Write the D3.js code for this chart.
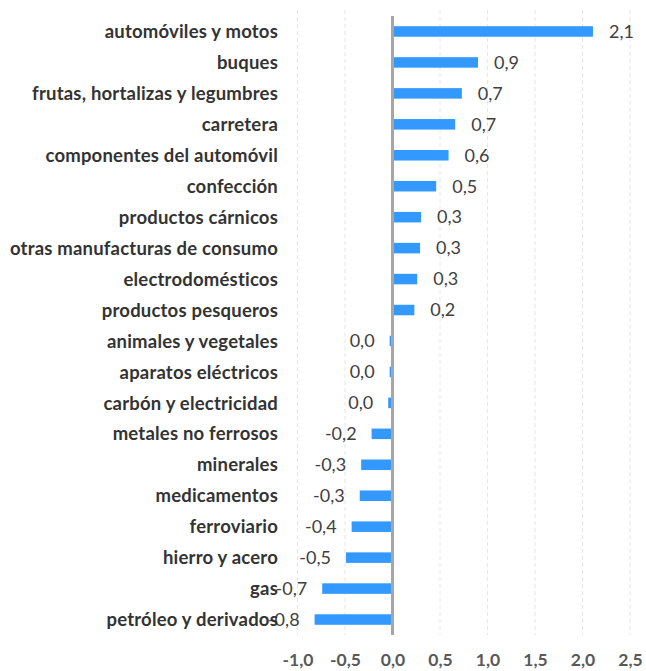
<!DOCTYPE html>
<html>
<head>
<meta charset="utf-8">
<script src="https://cdn.jsdelivr.net/npm/d3@7"></script>
<style>
  body { margin: 0; background: #fff; }
  svg { display: block; }
</style>
</head>
<body>
<div id="chart"></div>
<script>
// chart data, top to bottom
const categories = [
  "automóviles y motos", "buques", "frutas, hortalizas y legumbres", "carretera",
  "componentes del automóvil", "confección", "productos cárnicos",
  "otras manufacturas de consumo", "electrodomésticos", "productos pesqueros",
  "animales y vegetales", "aparatos eléctricos", "carbón y electricidad",
  "metales no ferrosos", "minerales", "medicamentos", "ferroviario",
  "hierro y acero", "gas", "petróleo y derivados"
];
const values = [
  2.11, 0.90, 0.73, 0.66, 0.59, 0.46, 0.30, 0.29, 0.26, 0.23,
  -0.03, -0.03, -0.045, -0.22, -0.33, -0.345, -0.43, -0.49, -0.74, -0.82
];
const xTicks = [-1, -0.5, 0, 0.5, 1, 1.5, 2, 2.5];

const WIDTH = 646;
const HEIGHT = 671;
const plotTop = 16, plotBottom = 635;
const labelRight = 278;

const data = categories.map((c, i) => ({ key: c, value: values[i] }));

// spanish decimal comma, no negative zero
function fmt(v) {
  let s = v.toFixed(1);
  if (+s === 0) s = "0.0";
  return s.replace(".", ",");
}

const svg = d3.select("#chart").append("svg")
  .attr("width", WIDTH)
  .attr("height", HEIGHT);

const xScale = d3.scaleLinear().domain([-1, 2.5]).range([297.5, 630]);
const yScale = d3.scaleBand()
  .domain(categories)
  .range([plotTop, plotBottom])
  .paddingInner(0.66)
  .paddingOuter(0.33);

// dashed gridlines
svg.append("g")
  .selectAll("line")
  .data(xTicks.filter(d => d !== 0))
  .enter().append("line")
  .attr("x1", d => xScale(d))
  .attr("x2", d => xScale(d))
  .attr("y1", plotTop - 6)
  .attr("y2", plotBottom)
  .attr("stroke", "#e6e6e6")
  .attr("stroke-width", 1)
  .attr("stroke-dasharray", "4,3");

// bars
svg.append("g")
  .selectAll("rect")
  .data(data)
  .enter().append("rect")
  .attr("x", d => xScale(Math.min(0, d.value)))
  .attr("y", d => yScale(d.key))
  .attr("width", d => Math.abs(xScale(d.value) - xScale(0)))
  .attr("height", yScale.bandwidth())
  .attr("fill", "#3399ff");

// zero line
svg.append("line")
  .attr("x1", xScale(0))
  .attr("x2", xScale(0))
  .attr("y1", plotTop)
  .attr("y2", plotBottom)
  .attr("stroke", "#a6a6a6")
  .attr("stroke-width", 3);

// value labels
svg.append("g")
  .selectAll("text")
  .data(data)
  .enter().append("text")
  .attr("x", d => d.value >= 0 ? xScale(d.value) + 16 : xScale(d.value) - 15)
  .attr("y", d => yScale(d.key) + yScale.bandwidth() / 2)
  .attr("dy", "0.35em")
  .attr("text-anchor", d => d.value >= 0 ? "start" : "end")
  .style("font-family", "Lato, 'Open Sans', sans-serif")
  .style("font-size", "18px")
  .style("fill", "#404040")
  .text(d => fmt(d.value));

// category labels
const yAxis = d3.axisLeft(yScale).tickSize(0).tickPadding(0);
svg.append("g")
  .attr("transform", `translate(${labelRight}, 0)`)
  .call(yAxis)
  .call(g => g.select(".domain").remove())
  .selectAll("text")
  .attr("dy", "0.36em")
  .style("font-family", "Lato, 'Open Sans', sans-serif")
  .style("font-size", "18.5px")
  .style("letter-spacing", "0.2px")
  .style("font-weight", "bold")
  .style("fill", "#333");

// bottom tick labels
const xAxis = d3.axisBottom(xScale).tickValues(xTicks).tickSize(0).tickPadding(19)
  .tickFormat(d => d.toFixed(1).replace(".", ","));
svg.append("g")
  .attr("transform", `translate(0, ${plotBottom})`)
  .call(xAxis)
  .call(g => g.select(".domain").remove())
  .selectAll("text")
  .style("font-family", "Lato, 'Open Sans', sans-serif")
  .style("font-size", "17.5px")
  .style("font-weight", "bold")
  .style("fill", "#595959");
</script>
</body>
</html>
